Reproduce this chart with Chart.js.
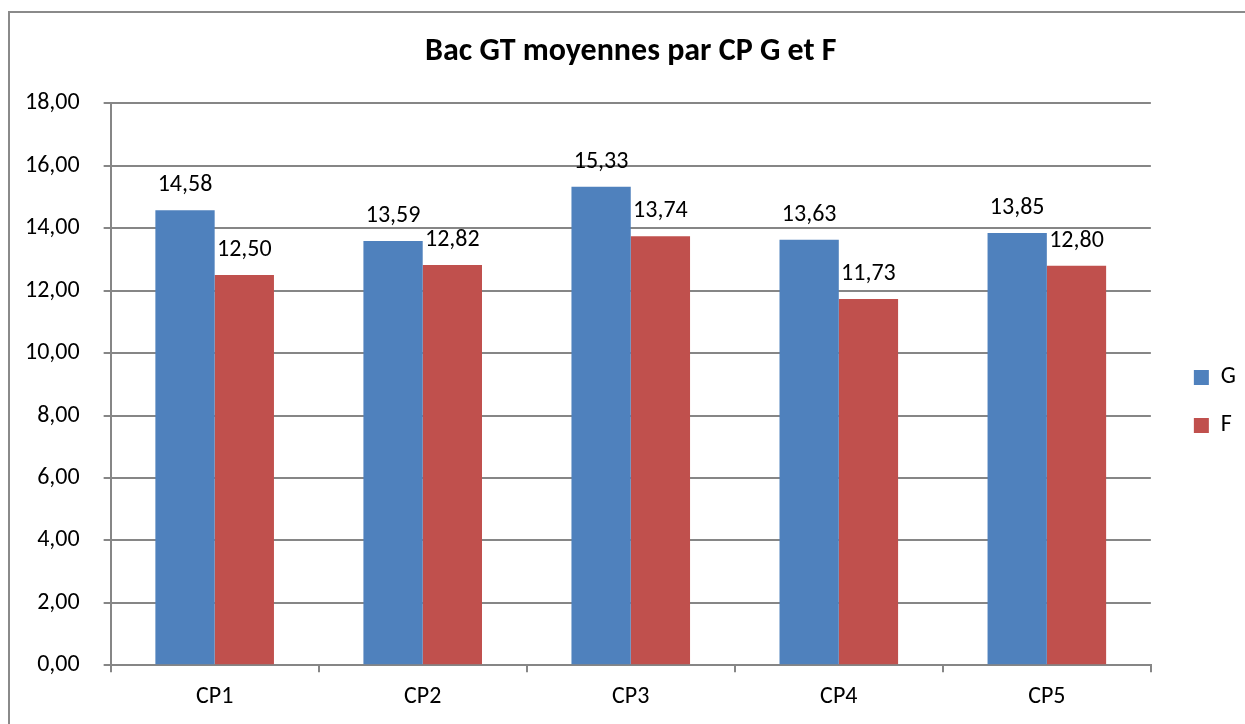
<!DOCTYPE html>
<html><head><meta charset="utf-8">
<script src="https://cdn.jsdelivr.net/npm/chart.js@4"></script>
<style>
html,body{margin:0;padding:0;background:#fff;overflow:hidden}
#wrap{position:absolute;left:0;top:0;width:1245px;height:724px}
#frame{position:absolute;left:8px;top:11px;width:1260px;height:740px;border:2px solid #8a8a8a;box-sizing:border-box;pointer-events:none}
</style></head>
<body>
<div id="wrap"><canvas id="c" width="1245" height="724"></canvas></div>
<div id="frame"></div>
<script>
const categories = ['CP1','CP2','CP3','CP4','CP5'];
const seriesG = [14.58, 13.59, 15.33, 13.63, 13.85];
const seriesF = [12.50, 12.82, 13.74, 11.73, 12.80];
const yTicks = [0,2,4,6,8,10,12,14,16,18];

const FONT = 'Carlito, Lato, sans-serif';
const fmt = v => v.toFixed(2).replace('.', ',');

const valueLabels = {
  id: 'valueLabels',
  afterDatasetsDraw(chart) {
    const ctx = chart.ctx;
    ctx.save();
    ctx.font = '24px ' + FONT;
    ctx.fillStyle = '#000';
    ctx.textAlign = 'center';
    ctx.textBaseline = 'alphabetic';
    chart.data.datasets.forEach((ds, i) => {
      chart.getDatasetMeta(i).data.forEach((bar, j) => {
        ctx.fillText(fmt(ds.data[j]), bar.x, bar.y - 19);
      });
    });
    ctx.restore();
  }
};

const boxPlace = {
  id: 'boxPlace',
  afterLayout(chart) {
    const lg = chart.legend;
    if (lg) {
      const h = lg.bottom - lg.top;
      const w = lg.right - lg.left;
      lg.left = chart.chartArea.right + 43 - 24;
      lg.right = lg.left + w + 40;
      lg.width = w + 40;
      lg.top = chart.chartArea.top + 238;
      lg.bottom = lg.top + h;
    }
    const tb = chart.titleBlock;
    if (tb) {
      const center = (chart.chartArea.left + chart.chartArea.right) / 2;
      const w = tb.right - tb.left;
      tb.left = center - w / 2;
      tb.right = center + w / 2;
    }
  }
};

function build() {
  new Chart(document.getElementById('c'), {
    type: 'bar',
    data: {
      labels: categories,
      datasets: [
        { label: 'G', data: seriesG, backgroundColor: '#4F81BD', borderWidth: 0 },
        { label: 'F', data: seriesF, backgroundColor: '#C0504D', borderWidth: 0 }
      ]
    },
    options: {
      responsive: false,
      animation: false,
      devicePixelRatio: 1,
      layout: { padding: { left: 1, right: 18, top: 33, bottom: 3 } },
      datasets: { bar: { categoryPercentage: 0.57, barPercentage: 1.0 } },
      plugins: {
        title: {
          display: true,
          text: 'Bac GT moyennes par CP G et F',
          color: '#000',
          font: { family: FONT, size: 32, weight: 'bold' },
          padding: { top: 0, bottom: 32 }
        },
        legend: {
          position: 'right',
          align: 'start',
          labels: {
            boxWidth: 15, boxHeight: 15, padding: 24,
            color: '#000',
            font: { family: FONT, size: 24 }
          }
        },
        tooltip: { enabled: false }
      },
      scales: {
        x: {
          grid: { drawOnChartArea: false, tickLength: 7, color: '#868686', lineWidth: 2, offset: true },
          border: { color: '#868686', width: 2 },
          ticks: { color: '#000', font: { family: FONT, size: 24 }, padding: 10 }
        },
        y: {
          min: 0, max: 18,
          afterBuildTicks(axis) { axis.ticks = yTicks.map(v => ({ value: v })); },
          grid: { color: '#868686', lineWidth: 2, tickLength: 7 },
          border: { color: '#868686', width: 2 },
          ticks: { color: '#000', font: { family: FONT, size: 24 }, padding: 24, callback: v => fmt(v) }
        }
      }
    },
    plugins: [valueLabels, boxPlace]
  });
}

Promise.all([
  document.fonts.load('24px Carlito'),
  document.fonts.load('bold 32px Carlito')
]).then(build, build);
</script>
</body></html>
